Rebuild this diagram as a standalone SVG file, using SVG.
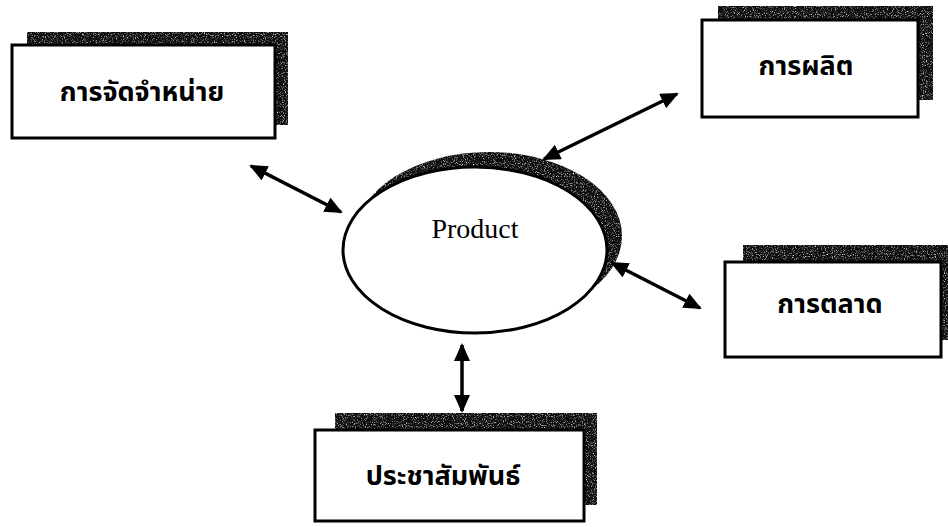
<svg xmlns="http://www.w3.org/2000/svg" width="948" height="527" viewBox="0 0 948 527">
  <defs>
    <filter id="speckle" x="0" y="0" width="100%" height="100%">
      <feTurbulence type="fractalNoise" baseFrequency="0.9" numOctaves="2" seed="3" result="n"/>
      <feColorMatrix in="n" type="matrix" values="0 0 0 0 0  0 0 0 0 0  0 0 0 0 0  0 0 0 -2.6 2.35" result="a"/>
      <feComposite in="SourceGraphic" in2="a" operator="in"/>
    </filter>
    <marker id="ah" viewBox="0 0 18 16" refX="16" refY="8" markerWidth="18" markerHeight="16" markerUnits="userSpaceOnUse" orient="auto-start-reverse">
      <path d="M0,0 L18,8 L0,16 z" fill="#000"/>
    </marker>
  </defs>
  <style>
    .shadow { fill: #111; filter: url(#speckle); }
    .box { fill: #fff; stroke: #000; stroke-width: 3; }
    .th { font-family: "Noto Sans Thai", "Noto Sans", "DejaVu Sans", sans-serif; font-weight: bold; font-size: 27px; fill: #000; text-anchor: middle; dominant-baseline: central; }
    .en { font-family: "Liberation Serif", "Times New Roman", serif; font-size: 28px; fill: #000; text-anchor: middle; }
    .conn { stroke: #000; stroke-width: 3.5; fill: none; marker-start: url(#ah); marker-end: url(#ah); }
  </style>
  <rect width="948" height="527" fill="#fff"/>

  <g id="node-distribution">
    <rect class="shadow" x="27" y="32" width="261" height="93"/>
    <rect class="box" x="12" y="45" width="263" height="93"/>
    <text class="th" x="142" y="92">การจัดจำหน่าย</text>
  </g>

  <g id="node-production">
    <rect class="shadow" x="718" y="6" width="215" height="94"/>
    <rect class="box" x="702" y="20" width="216" height="97"/>
    <text class="th" x="806" y="66">การผลิต</text>
  </g>

  <g id="node-marketing">
    <rect class="shadow" x="743" y="245" width="212" height="95"/>
    <rect class="box" x="725" y="262" width="216" height="95"/>
    <text class="th" x="830" y="304">การตลาด</text>
  </g>

  <g id="node-pr">
    <rect class="shadow" x="335" y="413" width="262" height="92"/>
    <rect class="box" x="315" y="430" width="269" height="91"/>
    <text class="th" x="443" y="476">ประชาสัมพันธ์</text>
  </g>

  <g id="node-product">
    <ellipse class="shadow" cx="489" cy="236" rx="133" ry="84"/>
    <ellipse class="box" cx="475" cy="250" rx="132" ry="83"/>
    <text class="en" x="475" y="238">Product</text>
  </g>

  <g id="connectors">
    <line class="conn" x1="251" y1="166" x2="341" y2="212"/>
    <line class="conn" x1="544" y1="159" x2="677" y2="94"/>
    <line class="conn" x1="612" y1="263" x2="700" y2="308"/>
    <line class="conn" x1="462" y1="345" x2="462" y2="411"/>
  </g>
</svg>
